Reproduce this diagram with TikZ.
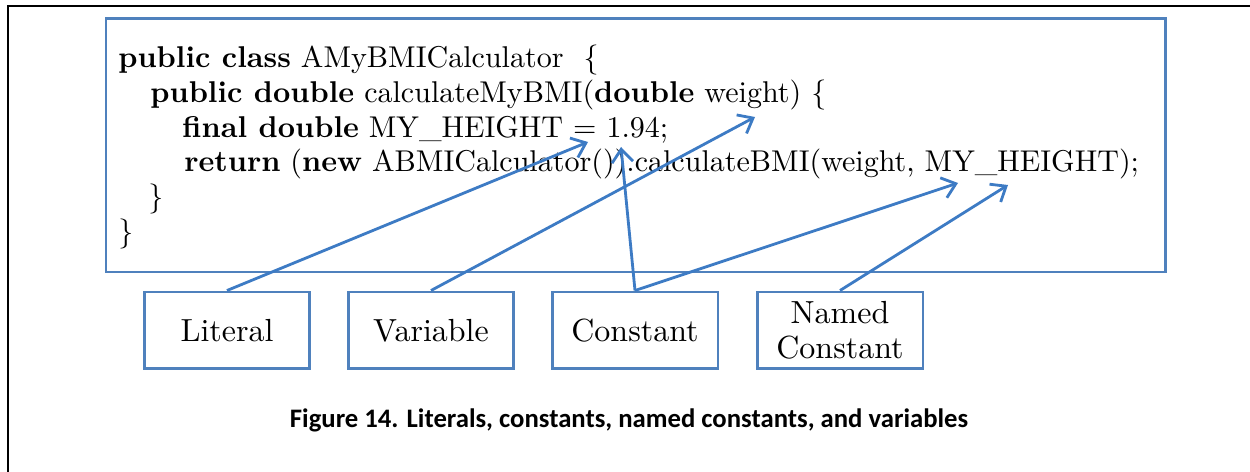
\documentclass[tikz,border=0pt]{standalone}
\usepackage{fontspec}
\newfontfamily\capfont{Carlito}
\newfontfamily\codefont{lmroman10-regular.otf}[BoldFont=lmroman10-bold.otf]
\usepackage{xcolor}
\usetikzlibrary{arrows.meta}
\definecolor{boxblue}{HTML}{4F81BD}
\definecolor{arrowblue}{HTML}{3D7BC4}

\begin{document}
\begin{tikzpicture}[x=0.02cm, y=-0.02cm,
	codeline/.style = {anchor=base west, inner sep=0pt, font=\codefont\fontsize{17.1}{20}\selectfont},
	kindbox/.style = {draw=boxblue, line width=1.7pt, minimum width=3.32cm, minimum height=1.54cm, align=center, font=\codefont\fontsize{18.2}{20}\selectfont},
	pointer/.style = {draw=arrowblue, line width=1.6pt, -{Straight Barb[length=2.6mm, width=4.2mm]}}]
	\useasboundingbox (0,0) rectangle (1250,472);
	\draw[line width=1pt] (8,472) -- (8,6) -- (1250,6);
	\draw[boxblue, line width=1.7pt] (106,19) rectangle (1165,272);
	\node[codeline] (l1) at (118,68) {\textbf{public class} AMyBMICalculator\ \ \{};
	\node[codeline] (l2) at (150,103) {\textbf{public double} calculateMyBMI(\textbf{double} weight) \{};
	\node[codeline] (l3) at (182,138) {\textbf{final double} MY\_HEIGHT = 1.94;};
	\node[codeline] (l4) at (184,172) {\textbf{return} (\textbf{new} ABMICalculator()).calculateBMI(weight, MY\_HEIGHT);};
	\node[codeline] (l5) at (148,207) {\}};
	\node[codeline] (l6) at (118,242) {\}};
	\node[kindbox] (literal) at (227,330.5) {Literal};
	\node[kindbox] (variable) at (431,330.5) {Variable};
	\node[kindbox] (constant) at (635,330.5) {Constant};
	\node[kindbox] (named) at (840,330.5) {Named\\Constant};
	\coordinate (litend) at (588,142);
	\coordinate (varend) at (755,117);
	\coordinate (conend) at (621,147);
	\coordinate (conend2) at (958,183);
	\coordinate (namedend) at (1008,185);
	\draw[pointer] (literal.north) -- (litend);
	\draw[pointer] (variable.north) -- (varend);
	\draw[pointer] (constant.north) -- (conend);
	\draw[pointer] (constant.north) -- (conend2);
	\draw[pointer] (named.north) -- (namedend);
	\node[font=\capfont\bfseries\fontsize{15.2}{17}\selectfont] (caption) at (629,420) {Figure 14. Literals, constants, named constants, and variables};
\end{tikzpicture}
\end{document}
